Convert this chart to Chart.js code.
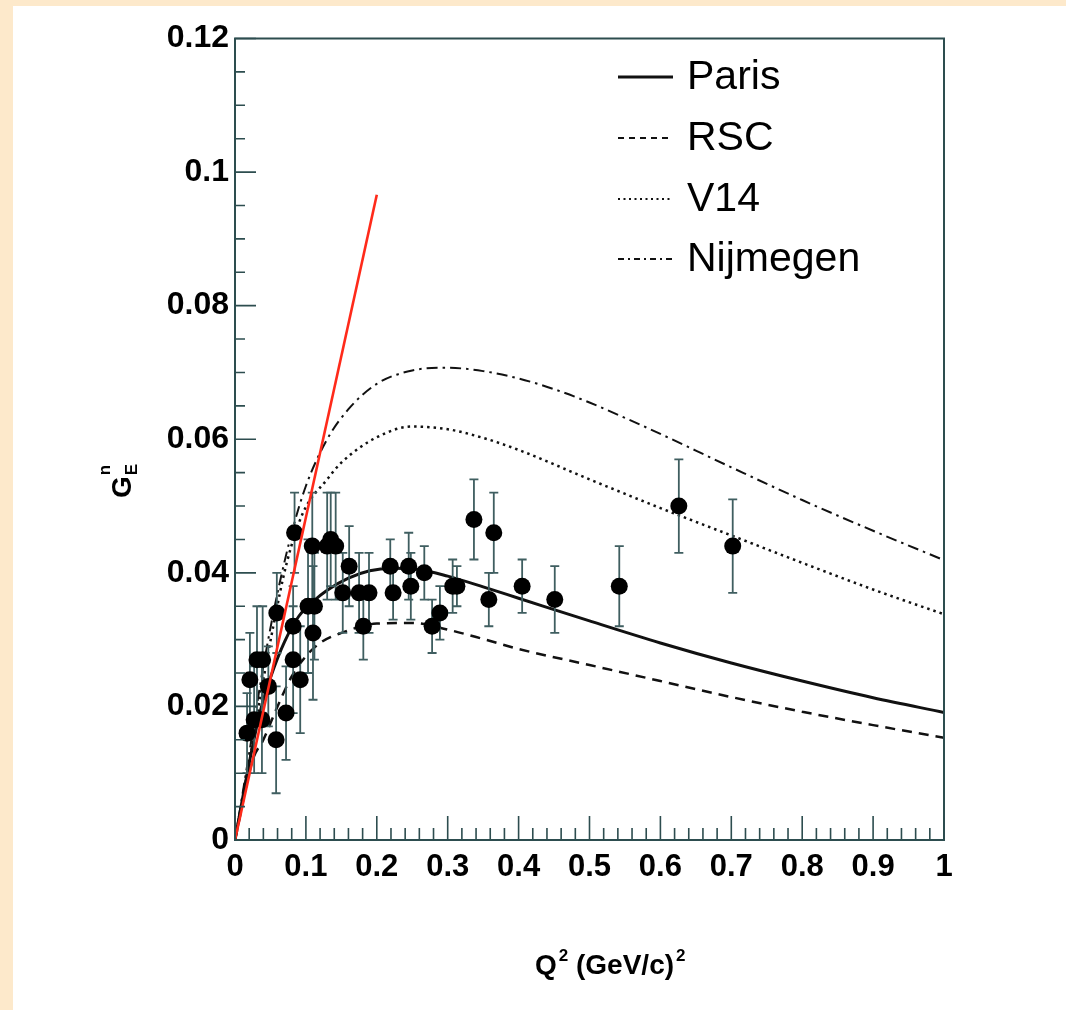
<!DOCTYPE html>
<html>
<head>
<meta charset="utf-8">
<title>Neutron electric form factor</title>
<script src="https://cdn.jsdelivr.net/npm/chart.js@4/dist/chart.umd.min.js"></script>
<style>
  html, body { margin: 0; padding: 0; background: #fde9cb; width: 1066px; height: 1010px; overflow: hidden; }
  #wrap { position: absolute; left: 13px; top: 6px; width: 1053px; height: 1004px; background: #ffffff; }
</style>
</head>
<body>
<div id="wrap"><canvas id="chart"></canvas></div>
<script>
// ---- data ----
const xTickLabels = ['0', '0.1', '0.2', '0.3', '0.4', '0.5', '0.6', '0.7', '0.8', '0.9', '1'];
const yTickLabels = ['0', '0.02', '0.04', '0.06', '0.08', '0.1', '0.12'];

// measured G_E^n values with errors
const q2Data = [0.017, 0.021, 0.027, 0.031, 0.039, 0.038, 0.047, 0.058, 0.059, 0.072, 0.082, 0.082, 0.084, 0.092,
  0.103, 0.109, 0.110, 0.112, 0.130, 0.135, 0.142, 0.152, 0.161, 0.175, 0.181, 0.189, 0.219, 0.223, 0.245, 0.248,
  0.267, 0.278, 0.289, 0.307, 0.313, 0.337, 0.358, 0.365, 0.405, 0.451, 0.542, 0.626, 0.702];
const gData = [0.016, 0.024, 0.018, 0.027, 0.027, 0.018, 0.023, 0.015, 0.034, 0.019, 0.027, 0.032, 0.046, 0.024,
  0.035, 0.044, 0.031, 0.035, 0.044, 0.045, 0.044, 0.037, 0.041, 0.037, 0.032, 0.037, 0.041, 0.037, 0.041, 0.038,
  0.040, 0.032, 0.034, 0.038, 0.038, 0.048, 0.036, 0.046, 0.038, 0.036, 0.038, 0.050, 0.044];
const gErr = [0.006, 0.007, 0.008, 0.008, 0.008, 0.008, 0.006, 0.008, 0.006, 0.007, 0.008, 0.006, 0.006, 0.008,
  0.010, 0.008, 0.010, 0.008, 0.008, 0.007, 0.008, 0.006, 0.006, 0.006, 0.005, 0.006, 0.004, 0.004, 0.005, 0.005,
  0.004, 0.004, 0.004, 0.004, 0.003, 0.006, 0.004, 0.006, 0.004, 0.005, 0.006, 0.007, 0.007];

// model curves
const parisQ = [0, 0.02, 0.035, 0.05, 0.07, 0.09, 0.11, 0.13, 0.16, 0.19, 0.22, 0.26, 0.3, 0.35, 0.4, 0.5, 0.6, 0.7, 0.8, 0.9, 1.0];
const parisG = [0, 0.0115, 0.019, 0.0243, 0.0297, 0.0335, 0.0357, 0.0374, 0.0392, 0.0403, 0.0407, 0.0405, 0.0395, 0.0379, 0.0362, 0.0328, 0.0295, 0.0265, 0.0238, 0.0213, 0.0191];

const rscQ = [0, 0.025, 0.04, 0.06, 0.08, 0.1, 0.12, 0.15, 0.2, 0.25, 0.3, 0.35, 0.4, 0.5, 0.6, 0.7, 0.8, 0.9, 1.0];
const rscG = [0, 0.012, 0.015, 0.020, 0.0245, 0.0275, 0.0295, 0.031, 0.0324, 0.0325, 0.0315, 0.0301, 0.0286, 0.0262, 0.0238, 0.0214, 0.0192, 0.0172, 0.0153];

const v14Q = [0, 0.024, 0.035, 0.054, 0.073, 0.096, 0.13, 0.15, 0.2, 0.25, 0.3, 0.35, 0.4, 0.5, 0.6, 0.7, 0.8, 0.9, 1.0];
const v14G = [0, 0.014, 0.021, 0.032, 0.0415, 0.049, 0.054, 0.0565, 0.0603, 0.0619, 0.0615, 0.0602, 0.0584, 0.0540, 0.0497, 0.0456, 0.0415, 0.0375, 0.0338];

const nijQ = [0, 0.02, 0.04, 0.06, 0.08, 0.1, 0.13, 0.16, 0.2, 0.25, 0.3, 0.35, 0.4, 0.45, 0.5, 0.55, 0.6, 0.65, 0.7, 0.8, 0.9, 1.0];
const nijG = [0, 0.013, 0.026, 0.037, 0.046, 0.053, 0.060, 0.0645, 0.0683, 0.0703, 0.0707, 0.0702, 0.0691, 0.0675, 0.0655, 0.0632, 0.0608, 0.0583, 0.0558, 0.0509, 0.0463, 0.0419];

// low-Q2 slope line
const slopeQ = [0, 0.2];
const slopeG = [0, 0.0966];

const seriesNames = ['Paris', 'RSC', 'V14', 'Nijmegen'];

// ---- helpers ----
const FONT = '"Liberation Sans", Arial, Helvetica, sans-serif';
const AXIS_COLOR = '#2d4d4f';
const pts = (xs, ys) => xs.map((x, i) => ({ x: x, y: ys[i] }));

const curveStyles = [
  { width: 3, dash: [], legendDash: [] },
  { width: 2.5, dash: [10, 7], legendDash: [6, 5] },
  { width: 2.5, dash: [2.5, 4], legendDash: [2, 3.5] },
  { width: 2, dash: [11, 5, 2.5, 5], legendDash: [6, 4, 2, 4] }
];
const curveData = [pts(parisQ, parisG), pts(rscQ, rscG), pts(v14Q, v14G), pts(nijQ, nijG)];

const curveDatasets = seriesNames.map((name, i) => ({
  type: 'line',
  label: name,
  data: curveData[i],
  borderColor: '#111111',
  borderWidth: curveStyles[i].width,
  borderDash: curveStyles[i].dash,
  pointRadius: 0,
  fill: false,
  cubicInterpolationMode: 'monotone',
  order: 3 + i
}));

// error bars beneath the markers
const errorBarPlugin = {
  id: 'errorBars',
  beforeDatasetDraw(chart, args) {
    if (chart.data.datasets[args.index].id !== 'measured') return;
    const xs = chart.scales.x, ys = chart.scales.y, ctx = chart.ctx;
    ctx.save();
    ctx.strokeStyle = '#3f5e60';
    ctx.lineWidth = 1.8;
    q2Data.forEach((q, i) => {
      const px = xs.getPixelForValue(q);
      const top = ys.getPixelForValue(gData[i] + gErr[i]);
      const bot = ys.getPixelForValue(gData[i] - gErr[i]);
      ctx.beginPath();
      ctx.moveTo(px, top); ctx.lineTo(px, bot);
      ctx.moveTo(px - 4.5, top); ctx.lineTo(px + 4.5, top);
      ctx.moveTo(px - 4.5, bot); ctx.lineTo(px + 4.5, bot);
      ctx.stroke();
    });
    ctx.restore();
  }
};

// frame, inward ticks, axis titles and legend
const framePlugin = {
  id: 'frame',
  afterDraw(chart) {
    const ctx = chart.ctx, a = chart.chartArea;
    const xs = chart.scales.x, ys = chart.scales.y;
    ctx.save();
    ctx.strokeStyle = AXIS_COLOR;
    ctx.lineWidth = 2;
    ctx.strokeRect(a.left, a.top, a.right - a.left, a.bottom - a.top);

    ctx.lineWidth = 1.6;
    ctx.beginPath();
    for (let i = 0; i <= 24; i++) {
      const py = ys.getPixelForValue(i * 0.005);
      const len = (i % 4 === 0) ? 21 : 10;
      ctx.moveTo(a.left, py); ctx.lineTo(a.left + len, py);
    }
    for (let i = 0; i <= 50; i++) {
      const px = xs.getPixelForValue(i * 0.02);
      const len = (i % 5 === 0) ? 24 : 12;
      ctx.moveTo(px, a.bottom); ctx.lineTo(px, a.bottom - len);
    }
    ctx.stroke();

    // x-axis title: Q^2 (GeV/c)^2
    ctx.fillStyle = '#000';
    ctx.textBaseline = 'alphabetic';
    ctx.textAlign = 'left';
    const big = 'bold 28px ' + FONT, small = 'bold 17px ' + FONT;
    let x = 522; const base = 968;
    ctx.font = big; ctx.fillText('Q', x, base); x += ctx.measureText('Q').width + 2;
    ctx.font = small; ctx.fillText('2', x, base - 13); x += ctx.measureText('2').width;
    ctx.font = big; ctx.fillText(' (GeV/c)', x, base); x += ctx.measureText(' (GeV/c)').width + 2;
    ctx.font = small; ctx.fillText('2', x, base - 13);

    // y-axis title: G_E^n, rotated
    ctx.save();
    ctx.translate(107, 478);
    ctx.rotate(-Math.PI / 2);
    ctx.font = big; ctx.fillText('G', -14, 11);
    const gw = ctx.measureText('G').width;
    ctx.font = small;
    ctx.fillText('E', -14 + gw + 1, 17);
    ctx.fillText('n', -14 + gw + 1, -10);
    ctx.restore();

    // legend
    const legendY = [71, 132, 193, 253];
    chart.data.datasets.forEach((ds) => {
      const k = seriesNames.indexOf(ds.label);
      if (k < 0 || ds.type !== 'line') return;
      const y = legendY[k];
      ctx.strokeStyle = '#111';
      ctx.lineWidth = k === 0 ? 3 : 2.2;
      ctx.setLineDash(curveStyles[k].legendDash);
      ctx.beginPath(); ctx.moveTo(605, y); ctx.lineTo(660, y); ctx.stroke();
      ctx.setLineDash([]);
      ctx.font = '41px ' + FONT;
      ctx.fillStyle = '#000';
      ctx.textBaseline = 'middle';
      ctx.fillText(ds.label, 674, y + 1);
    });
    ctx.restore();
  }
};

new Chart(document.getElementById('chart'), {
  type: 'scatter',
  data: {
    datasets: [
      {
        type: 'line',
        label: 'slope',
        data: pts(slopeQ, slopeG),
        borderColor: '#ff2a1a',
        borderWidth: 2.6,
        pointRadius: 0,
        fill: false,
        order: 0
      },
      {
        id: 'measured',
        type: 'scatter',
        label: 'data',
        data: pts(q2Data, gData),
        backgroundColor: '#000000',
        borderColor: '#000000',
        pointRadius: 8.5,
        borderWidth: 0,
        order: 1
      },
      ...curveDatasets
    ]
  },
  options: {
    responsive: true,
    maintainAspectRatio: false,
    animation: false,
    events: [],
    layout: { padding: { top: 32.5, right: 122, left: 0, bottom: 0 } },
    plugins: { legend: { display: false }, tooltip: { enabled: false }, title: { display: false } },
    scales: {
      x: {
        type: 'linear', min: 0, max: 1,
        grid: { display: false, drawTicks: false }, border: { display: false },
        afterFit(s) { s.height = 170; },
        ticks: {
          stepSize: 0.1, autoSkip: false, maxRotation: 0, padding: 9,
          color: '#000', font: { family: FONT, size: 31, weight: 'bold' },
          callback: (v, i) => xTickLabels[i]
        }
      },
      y: {
        type: 'linear', min: 0, max: 0.12,
        grid: { display: false, drawTicks: false }, border: { display: false },
        afterFit(s) { s.width = 222; },
        ticks: {
          stepSize: 0.02, autoSkip: false, padding: 6,
          color: '#000', font: { family: FONT, size: 32, weight: 'bold' },
          callback: (v, i) => yTickLabels[i]
        }
      }
    }
  },
  plugins: [errorBarPlugin, framePlugin]
});
</script>
</body>
</html>
